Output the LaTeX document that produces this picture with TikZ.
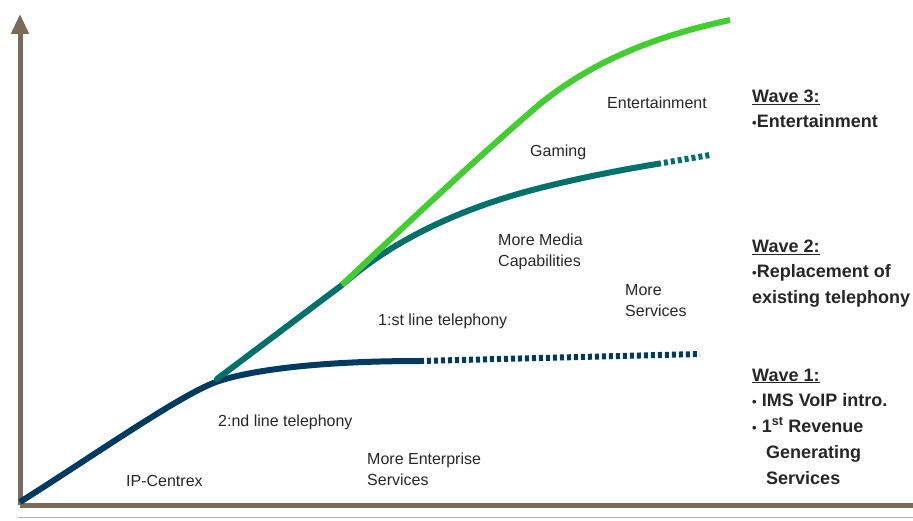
\documentclass[tikz,border=0pt]{standalone}
\usepackage{fontspec}
\setmainfont{Liberation Sans}
\usetikzlibrary{arrows.meta}

\definecolor{axisbrown}{HTML}{7A6A5A}
\definecolor{navy}{HTML}{003A60}
\definecolor{tealw}{HTML}{00706A}
\definecolor{greenw}{HTML}{44CC33}

\newcommand{\wbul}{{\fontsize{13}{13}\selectfont\textbullet}}

\begin{document}
\begin{tikzpicture}[
    x=1pt, y=-1pt,
    axis/.style={line width=5pt, axisbrown},
    wave/.style={line width=6pt},
    dots/.style={line width=6pt, dash pattern=on 4pt off 3pt},
    lbl/.style={font=\fontsize{16}{21}\selectfont, text=black!85, anchor=west, inner sep=0pt, align=left},
    wavehead/.style={font=\fontsize{18}{20}\selectfont\bfseries, text=black!85, anchor=west, inner sep=0pt},
    waveitem/.style={font=\fontsize{18}{26}\selectfont\bfseries, text=black!85, anchor=north west, inner sep=0pt, align=left},
]
\useasboundingbox (0,0) rectangle (913,521);

% Axes
\coordinate (origin) at (20,505);
\coordinate (ytop) at (20,14);
\coordinate (xend) at (913,505);
\draw[axis, -{Triangle[length=20pt, width=17pt]}] (origin) -- (ytop);
\draw[axis] (origin) -- (xend);
\draw[gray!60, line width=1pt] (18,517) -- (913,517);

% Junctions
\coordinate (w1start) at (20,502);
\coordinate (j1) at (216,382);
\coordinate (j2) at (342,285);
\coordinate (w1end) at (420,361);
\coordinate (w2end) at (657,164);
\coordinate (w3end) at (730,20);

% Wave 1
\draw[wave, navy] (w1start) .. controls (90,458) and (180,395) .. (j1)
  .. controls (250,370) and (320,361) .. (w1end);
\draw[dots, navy] (w1end) -- (700,354);

% Wave 2
\draw[wave, tealw, line cap=round] (217,379) -- (j2)
  .. controls (395,238) and (465,207) .. (540,188)
  .. controls (580,178) and (620,170) .. (w2end);
\draw[dots, tealw] (w2end) -- (710,155);

% Wave 3
\draw[wave, greenw] (j2) .. controls (400,230) and (480,155) .. (540,104)
  .. controls (600,55) and (670,33) .. (w3end);

% Curve labels
\node[lbl] (ipc) at (126,481) {IP-Centrex};
\node[lbl] (sndline) at (218,422) {2:nd line telephony};
\node[lbl] (enterprise) at (367,469) {More Enterprise\\Services};
\node[lbl] (fstline) at (378,321) {1:st line telephony};
\node[lbl] (media) at (498,252) {More Media\\Capabilities};
\node[lbl] (moreserv) at (625,301) {More\\Services};
\node[lbl] (gaming) at (530,152) {Gaming};
\node[lbl] (entert) at (607,103) {Entertainment};

% Wave legend
\node[wavehead] (w3) at (752,97) {\underline{Wave 3:}};
\node[waveitem] (w3t) at (752,114) {\wbul Entertainment};
\node[wavehead] (w2) at (752,247) {\underline{Wave 2:}};
\node[waveitem] (w2t) at (752,264) {\wbul Replacement of\\existing telephony};
\node[wavehead] (w1) at (752,376) {\underline{Wave 1:}};
\node[waveitem] (w1t) at (752,393) {\wbul\ IMS VoIP intro.\\\wbul\ 1\textsuperscript{st} Revenue\\\hspace*{14pt}Generating\\\hspace*{14pt}Services};
\end{tikzpicture}
\end{document}
